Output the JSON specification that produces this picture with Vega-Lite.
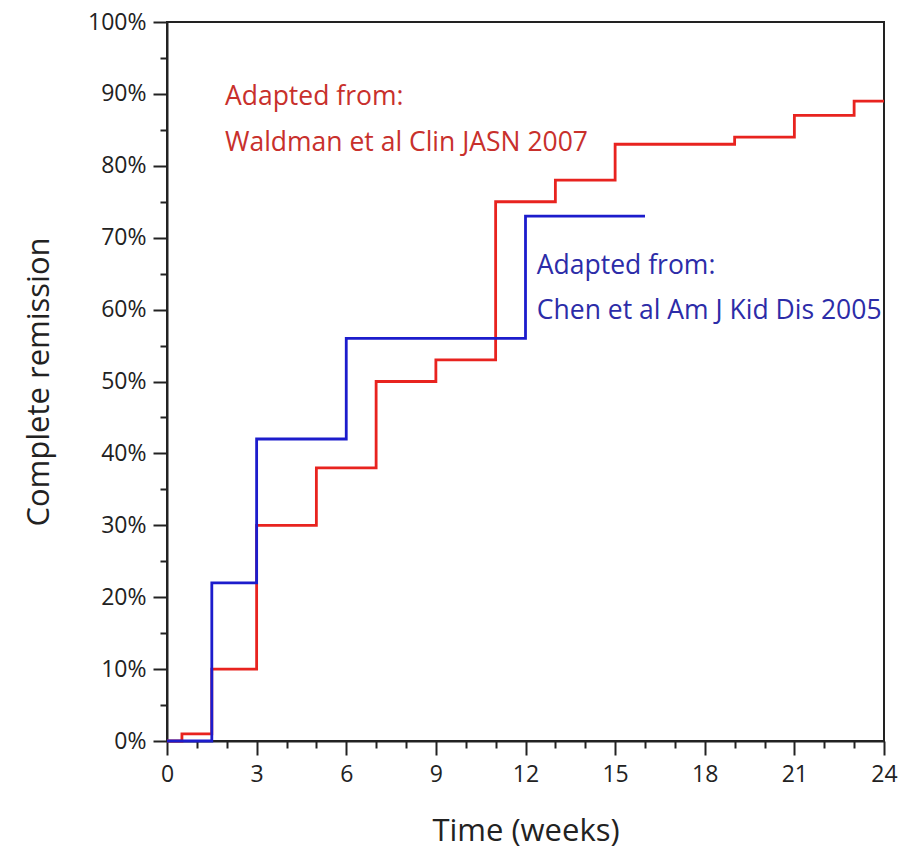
{
  "$schema": "https://vega.github.io/schema/vega-lite/v6.json",
  "width": 717,
  "height": 719,
  "autosize": {"type": "none"},
  "padding": {"left": 167, "top": 22, "right": 35, "bottom": 111},
  "background": "white",
  "config": {
    "view": {"stroke": "#222", "strokeWidth": 2},
    "axis": {"labelFont": "Open Sans", "titleFont": "Open Sans", "labelColor": "#222", "titleColor": "#222", "domainColor": "#222", "tickColor": "#222", "grid": false, "labelOverlap": false}
  },
  "datasets": {
    "curves": [
      {"series": "Waldman", "week": 0, "pct": 0},
      {"series": "Waldman", "week": 0.5, "pct": 1},
      {"series": "Waldman", "week": 1.5, "pct": 10},
      {"series": "Waldman", "week": 3, "pct": 30},
      {"series": "Waldman", "week": 5, "pct": 38},
      {"series": "Waldman", "week": 7, "pct": 50},
      {"series": "Waldman", "week": 9, "pct": 53},
      {"series": "Waldman", "week": 11, "pct": 75},
      {"series": "Waldman", "week": 13, "pct": 78},
      {"series": "Waldman", "week": 15, "pct": 83},
      {"series": "Waldman", "week": 19, "pct": 84},
      {"series": "Waldman", "week": 21, "pct": 87},
      {"series": "Waldman", "week": 23, "pct": 89},
      {"series": "Waldman", "week": 24, "pct": 89},
      {"series": "Chen", "week": 0, "pct": 0},
      {"series": "Chen", "week": 1.5, "pct": 22},
      {"series": "Chen", "week": 3, "pct": 42},
      {"series": "Chen", "week": 6, "pct": 56},
      {"series": "Chen", "week": 12, "pct": 73},
      {"series": "Chen", "week": 16, "pct": 73}
    ],
    "notes": [
      {"series": "Waldman", "week": 1.94, "pct": 89.6, "label": "Adapted from:"},
      {"series": "Waldman", "week": 1.94, "pct": 83.2, "label": "Waldman et al Clin JASN 2007"},
      {"series": "Chen", "week": 12.38, "pct": 66.1, "label": "Adapted from:"},
      {"series": "Chen", "week": 12.38, "pct": 59.8, "label": "Chen et al Am J Kid Dis 2005"}
    ]
  },
  "layer": [
    {
      "data": {"name": "curves"},
      "mark": {"type": "line", "interpolate": "step-after", "strokeWidth": 2.8},
      "encoding": {
        "x": {"field": "week", "type": "quantitative", "scale": {"domain": [0, 24], "nice": false, "zero": false},
          "axis": {"orient": "bottom", "values": [0,1,2,3,4,5,6,7,8,9,10,11,12,13,14,15,16,17,18,19,20,21,22,23,24], "tickCount": 50,
            "labelExpr": "datum.value % 3 === 0 ? format(datum.value, 'd') : ''",
            "labelOverlap": false, "labelFlush": false, "labelSeparation": 0,
            "tickSize": {"condition": {"test": "datum.value % 3 === 0", "value": 14}, "value": 7},
            "title": "Time (weeks)", "labelFontSize": 23, "titleFontSize": 31, "titleFontWeight": "normal", "tickWidth": 2, "domainWidth": 2, "labelPadding": 8, "titlePadding": 30}},
        "y": {"field": "pct", "type": "quantitative", "scale": {"domain": [0, 100], "nice": false},
          "axis": {"orient": "left", "values": [0,5,10,15,20,25,30,35,40,45,50,55,60,65,70,75,80,85,90,95,100], "tickCount": 50,
            "labelExpr": "datum.value % 10 === 0 ? datum.value + '%' : ''",
            "labelOverlap": false, "labelFlush": false,
            "tickSize": {"condition": {"test": "datum.value % 10 === 0", "value": 14}, "value": 7},
            "title": "Complete remission", "labelFontSize": 23, "titleFontSize": 31, "titleFontWeight": "normal", "tickWidth": 2, "domainWidth": 2, "labelPadding": 7, "titlePadding": 32}},
        "color": {"field": "series", "type": "nominal", "scale": {"domain": ["Waldman", "Chen"], "range": ["#e8231f", "#1c1ccc"]}, "legend": null},
        "order": {"field": "week", "type": "quantitative"}
      }
    },
    {
      "data": {"name": "notes"},
      "mark": {"type": "text", "align": "left", "baseline": "middle", "font": "Open Sans", "fontSize": 26.5},
      "encoding": {
        "x": {"field": "week", "type": "quantitative"},
        "y": {"field": "pct", "type": "quantitative"},
        "text": {"field": "label"},
        "color": {"field": "series", "type": "nominal", "scale": {"domain": ["Waldman", "Chen"], "range": ["#c8302c", "#2c2ca8"]}, "legend": null}
      }
    }
  ],
  "resolve": {"scale": {"color": "independent"}}
}
